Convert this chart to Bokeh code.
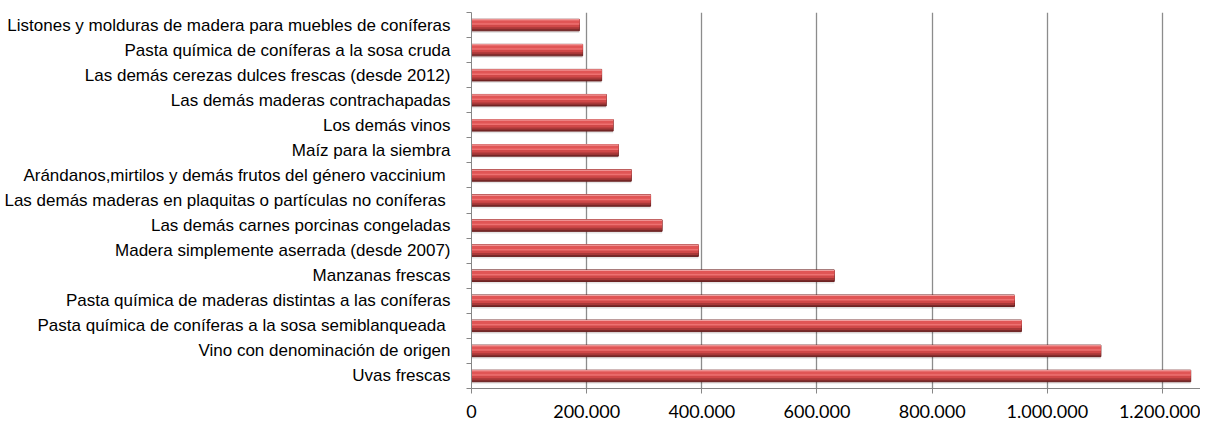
from bokeh.plotting import figure
from bokeh.models import ColumnDataSource, FixedTicker, Range1d
from bokeh.transform import dodge
from bokeh.embed import file_html
from bokeh.resources import INLINE

# Categories listed bottom -> top
categories = [
    "Uvas frescas",
    "Vino con denominación de origen",
    "Pasta química de coníferas a la sosa  semiblanqueada",
    "Pasta química de maderas distintas a las coníferas",
    "Manzanas frescas",
    "Madera simplemente aserrada (desde 2007)",
    "Las demás carnes porcinas congeladas",
    "Las demás maderas en plaquitas o partículas no coníferas ",
    "Arándanos,mirtilos y demás frutos del género vaccinium ",
    "Maíz para la siembra",
    "Los demás vinos",
    "Las demás maderas contrachapadas",
    "Las demás cerezas dulces frescas (desde 2012)",
    "Pasta química de coníferas a la sosa cruda",
    "Listones y molduras de madera para muebles de coníferas",
]
values = [1249000, 1093000, 955000, 943000, 630000, 394000, 331000, 311000,
          277500, 255000, 246000, 234000, 226000, 193000, 187300]

x_ticks = [0, 200000, 400000, 600000, 800000, 1000000, 1200000]
x_tick_labels = ["0", "200.000", "400.000", "600.000", "800.000", "1.000.000", "1.200.000"]

n = len(categories)
pos = list(range(n))
src = ColumnDataSource(dict(y=pos, v=values, cat=categories))

p = figure(width=1200, height=424, output_backend="svg", toolbar_location=None,
           x_range=Range1d(0, 1266000), y_range=Range1d(-0.5, n - 0.5),
           min_border_left=471, min_border_right=0, min_border_top=12, min_border_bottom=36)
p.outline_line_color = None
p.background_fill_color = "white"

# shadow
p.hbar(y=dodge("y", -0.27), left=0, right="v", height=0.09, source=src,
       fill_color="#000000", fill_alpha=0.10, line_color=None)
# bars: layered strips imitating the bevelled look
p.hbar(y="y", left=0, right="v", height=0.46, source=src,
       fill_color="#7A2A2A", line_color="#6A1F1F", line_width=1)
p.hbar(y=dodge("y", 0.03), left=0, right="v", height=0.40, source=src,
       fill_color="#A83838", line_color=None)
p.hbar(y=dodge("y", 0.07), left=0, right="v", height=0.32, source=src,
       fill_color="#D04848", line_color=None)
p.hbar(y=dodge("y", 0.12), left=0, right="v", height=0.22, source=src,
       fill_color="#EE7070", line_color=None)
p.hbar(y=dodge("y", 0.13), left=0, right="v", height=0.12, source=src,
       fill_color="#E05555", line_color=None)
p.hbar(y=dodge("y", 0.21), left=0, right="v", height=0.04, source=src,
       fill_color="#F0A0A0", line_color=None)

# grid
p.ygrid.visible = False
p.xgrid.grid_line_color = "#8C8C8C"
p.xgrid.grid_line_width = 1.3

# x axis
xa = p.xaxis[0]
xa.ticker = FixedTicker(ticks=x_ticks)
xa.major_label_overrides = {t: l for t, l in zip(x_ticks, x_tick_labels)}
xa.axis_line_color = "#868686"
xa.major_tick_line_color = "#868686"
xa.major_tick_out = 5
xa.major_tick_in = 0
xa.minor_tick_line_color = None
xa.major_label_text_font = "Lato"
xa.major_label_text_font_size = "18px"
xa.major_label_text_color = "black"
xa.major_label_standoff = 11

# y axis
ya = p.yaxis[0]
ya.ticker = FixedTicker(ticks=pos, minor_ticks=[i - 0.5 for i in range(n + 1)])
ya.major_label_overrides = {i: c for i, c in zip(pos, categories)}
ya.axis_line_color = "#868686"
ya.major_tick_line_color = None
ya.major_tick_out = 0
ya.major_tick_in = 0
ya.minor_tick_line_color = "#868686"
ya.minor_tick_out = 5
ya.minor_tick_in = 0
ya.major_label_text_font = "Liberation Sans"
ya.major_label_text_font_size = "17px"
ya.major_label_text_color = "black"
ya.major_label_standoff = 16

open("out.html", "w").write(file_html(p, INLINE))
